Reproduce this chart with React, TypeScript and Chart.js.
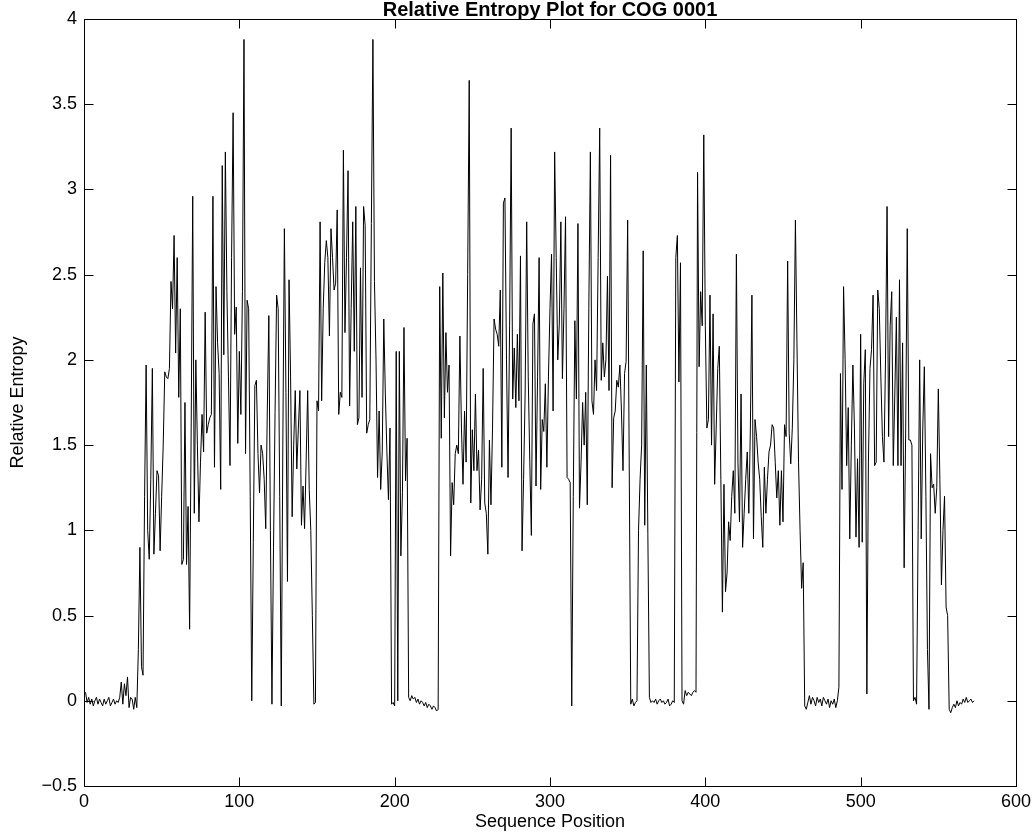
import React, { useEffect, useRef } from 'react';
import { Chart, registerables } from 'chart.js';

Chart.register(...registerables);

// Relative entropy per sequence position (positions 1..573)
const seg1 = [
  0.05, -0.01, 0.02, -0.02, 0.01, -0.03, 0.0, 0.02, -0.02, 0.01,
  -0.01, -0.03, 0.01, -0.02, 0.0, 0.02, -0.03, -0.01, 0.01, -0.02,
  0.0, -0.01, 0.02, 0.11, -0.02, 0.1, 0.03, 0.14, -0.04, 0.02,
  0.01, -0.05, 0.02, -0.04, 0.3, 0.9, 0.2, 0.15, 1.2, 1.97,
  1.0, 0.83, 1.3, 1.95, 0.86, 1.1, 1.35, 1.32, 0.88, 1.2,
  1.5, 1.93, 1.9, 1.89, 1.95, 2.46, 2.3, 2.73, 2.04, 2.6,
];
const seg2 = [
  1.78, 2.3, 0.8, 0.83, 1.75, 0.8, 1.14, 0.42, 1.6, 2.96,
  1.1, 2.0, 1.5, 1.05, 1.4, 1.68, 1.46, 2.28, 1.57, 1.62,
  1.66, 1.68, 2.96, 1.37, 2.43, 2.1, 1.92, 1.24, 3.14, 2.03,
  3.22, 2.4, 1.9, 1.38, 2.6, 3.45, 2.15, 2.31, 1.51, 2.05,
  1.68, 2.4, 3.88, 1.45, 2.35, 2.3, 1.2, 0.0, 0.93, 1.85,
  1.88, 1.45, 1.22, 1.5, 1.45, 1.3, 1.01, 1.7, 2.26, 1.0,
];
const seg3 = [
  -0.02, 0.9, 1.69, 2.38, 2.3, 1.2, -0.03, 1.5, 2.77, 1.81,
  0.7, 2.47, 1.9, 1.08, 1.5, 1.82, 1.36, 1.6, 1.82, 1.03,
  1.26, 1.01, 1.4, 1.82, 1.24, 1.0, 0.5, -0.02, -0.01, 1.76,
  1.7, 2.81, 1.76, 2.3, 2.57, 2.7, 2.6, 2.14, 2.77, 2.6,
  2.41, 2.45, 2.88, 1.68, 1.81, 1.78, 3.23, 2.16, 2.6, 3.11,
  1.73, 2.3, 2.81, 2.05, 2.9, 1.62, 1.66, 2.54, 1.78, 2.9,
];
const seg4 = [
  2.79, 1.57, 1.62, 1.65, 2.8, 3.88, 2.46, 2.0, 1.31, 1.7,
  1.24, 1.46, 2.24, 1.8, 1.46, 1.18, 1.6, -0.02, -0.01, -0.03,
  2.05, 0.0, 2.05, 0.85, 1.22, 2.19, 1.29, 1.54, 0.02, 0.0,
  0.03, 0.01, 0.02, -0.01, 0.01, -0.02, 0.0, -0.01, -0.03, -0.01,
  -0.04, -0.02, -0.03, -0.05, -0.03, -0.04, -0.06, -0.05, 2.43, 1.54,
  2.51, 1.66, 2.16, 1.81, 1.97, 0.85, 1.28, 1.15, 1.45, 1.5,
];
const seg5 = [
  1.45, 2.14, 1.6, 1.27, 1.7, 1.4, 2.5, 3.64, 1.16, 1.59,
  1.35, 1.8, 1.35, 1.47, 1.12, 1.3, 1.95, 1.16, 1.1, 0.86,
  1.53, 1.15, 1.6, 2.24, 2.18, 2.15, 2.08, 2.41, 1.37, 2.92,
  2.95, 2.0, 1.31, 2.2, 3.36, 1.77, 2.07, 1.72, 2.15, 1.76,
  2.61, 0.88, 1.3, 1.8, 2.81, 1.9, 1.4, 0.97, 2.21, 2.27,
  1.26, 1.9, 2.6, 1.24, 1.65, 1.58, 1.86, 1.37, 1.9, 2.3,
];
const seg6 = [
  2.62, 1.7, 3.22, 2.6, 2.0, 2.21, 2.81, 1.89, 2.3, 2.84,
  1.31, 1.3, 1.28, -0.03, 1.2, 2.23, 1.77, 2.8, 1.13, 1.4,
  1.75, 1.5, 1.81, 1.15, 2.3, 3.22, 1.76, 1.68, 2.0, 1.82,
  2.6, 3.36, 1.88, 2.1, 1.9, 2.0, 2.49, 1.82, 3.2, 1.25,
  1.66, 1.7, 1.88, 1.84, 1.97, 1.7, 1.35, 1.92, 1.99, 2.82,
  1.4, -0.02, 0.01, -0.03, -0.01, 0.0, 1.0, 1.3, 1.5, 2.64,
];
const seg7 = [
  1.03, 1.97, 0.98, 0.02, -0.01, 0.0, -0.01, 0.01, -0.02, 0.0,
  0.01, -0.01, 0.0, -0.02, -0.01, 0.01, -0.03, -0.02, 0.0, -0.01,
  2.6, 2.73, 1.87, 2.57, 0.0, -0.02, 0.06, 0.03, 0.05, 0.04,
  0.03, 0.05, 0.06, 0.05, 3.1, 1.96, 2.4, 2.2, 3.32, 2.2,
  1.6, 1.65, 2.38, 1.5, 2.27, 1.27, 1.6, 1.95, 2.08, 1.3,
  0.52, 1.27, 0.64, 0.75, 1.05, 0.94, 1.2, 1.35, 1.1, 2.62,
];
const seg8 = [
  1.4, 1.05, 1.8, 0.9, 1.1, 1.3, 1.46, 1.1, 1.6, 2.38,
  0.95, 1.65, 1.55, 1.4, 1.3, 1.08, 0.9, 1.37, 1.1, 1.3,
  1.46, 1.5, 1.62, 1.6, 1.4, 1.19, 1.35, 1.03, 1.35, 1.05,
  1.62, 1.55, 2.58, 1.57, 1.39, 1.6, 2.0, 2.82, 2.1, 1.4,
  1.0, 0.66, 0.81, -0.03, -0.05, -0.01, 0.03, -0.02, 0.02, 0.0,
  -0.03, 0.02, -0.01, 0.01, -0.03, 0.02, 0.0, -0.02, 0.01, -0.04,
];
const seg9 = [
  0.0, -0.02, 0.01, -0.04, 0.0, 0.08, 1.92, 1.24, 2.43, 2.0,
  1.38, 1.72, 0.95, 1.5, 1.97, 1.6, 0.96, 1.42, 0.9, 2.15,
  0.93, 1.86, 2.06, 0.04, 1.4, 1.95, 2.06, 2.38, 1.38, 1.4,
  2.41, 2.3, 1.9, 1.55, 1.4, 2.0, 2.9, 1.55, 2.2, 2.4,
  1.38, 1.8, 2.25, 1.38, 2.47, 1.38, 2.1, 0.78, 1.6, 2.77,
  1.53, 1.53, 1.5, 0.0, 0.02, -0.02, 1.0, 2.0, 0.95, 1.6,
];
const seg10 = [
  1.96, 1.2, 0.3, -0.05, 1.45, 1.25, 1.27, 1.1, 1.25, 1.83,
  1.3, 0.68, 1.0, 1.2, 0.55, 0.5, -0.05, -0.07, -0.04, -0.02,
  -0.04, 0.0, -0.03, -0.01, -0.02, 0.01, -0.01, 0.02, -0.01, 0.0,
  0.01, -0.01, 0.0,
];

const entropy = [
  ...seg1, ...seg2, ...seg3, ...seg4, ...seg5,
  ...seg6, ...seg7, ...seg8, ...seg9, ...seg10,
];

const xTicks = [0, 100, 200, 300, 400, 500, 600];
const yTicks = [-0.5, 0, 0.5, 1, 1.5, 2, 2.5, 3, 3.5, 4];

const TITLE = 'Relative Entropy Plot for COG 0001';
const X_LABEL = 'Sequence Position';
const Y_LABEL = 'Relative Entropy';

const FONT = '"Liberation Sans", Arial, Helvetica, sans-serif';
const TICK_LEN = 9;

const framePlugin = {
  id: 'matlabFrame',
  afterDraw(chart: any) {
    const { ctx, chartArea } = chart;
    const xs = chart.scales.x;
    const ys = chart.scales.y;
    const l = Math.round(chartArea.left) + 0.5;
    const r = Math.round(chartArea.right) + 0.5;
    const t = Math.round(chartArea.top) + 0.5;
    const b = Math.round(chartArea.bottom) + 0.5;
    ctx.save();
    ctx.strokeStyle = '#000';
    ctx.lineWidth = 1;
    ctx.beginPath();
    ctx.moveTo(l, t);
    ctx.lineTo(r, t);
    ctx.lineTo(r, b);
    ctx.lineTo(l, b);
    ctx.closePath();
    for (const v of xTicks) {
      const px = Math.round(xs.getPixelForValue(v)) + 0.5;
      ctx.moveTo(px, b);
      ctx.lineTo(px, b - TICK_LEN);
      ctx.moveTo(px, t);
      ctx.lineTo(px, t + TICK_LEN);
    }
    for (const v of yTicks) {
      const py = Math.round(ys.getPixelForValue(v)) + 0.5;
      ctx.moveTo(l, py);
      ctx.lineTo(l + TICK_LEN, py);
      ctx.moveTo(r, py);
      ctx.lineTo(r - TICK_LEN, py);
    }
    ctx.stroke();
    ctx.fillStyle = '#000';
    ctx.font = `bold 20px ${FONT}`;
    ctx.textAlign = 'center';
    ctx.textBaseline = 'alphabetic';
    ctx.fillText(TITLE, (chartArea.left + chartArea.right) / 2, 16);
    ctx.restore();
  },
};

export default function App() {
  const canvasRef = useRef<HTMLCanvasElement | null>(null);

  useEffect(() => {
    const canvas = canvasRef.current;
    if (!canvas) return;
    Chart.defaults.font.family = FONT;
    const chart = new Chart(canvas, {
      type: 'scatter',
      data: {
        datasets: [
          {
            data: entropy.map((v, i) => ({ x: i + 1, y: v })),
            showLine: true,
            borderColor: '#000',
            borderWidth: 1,
            pointRadius: 0,
            tension: 0,
            fill: false,
          },
        ],
      },
      options: {
        animation: false,
        responsive: false,
        devicePixelRatio: 1,
        layout: { padding: { top: 19, right: 17, left: 0, bottom: 0 } },
        plugins: {
          legend: { display: false },
          title: { display: false },
          tooltip: { enabled: false },
        },
        scales: {
          x: {
            type: 'linear',
            min: 0,
            max: 600,
            afterFit: (s: any) => { s.height = 52; },
            afterBuildTicks: (s: any) => { s.ticks = xTicks.map((v) => ({ value: v })); },
            ticks: {
              color: '#000',
              font: { size: 18, family: FONT },
              padding: 5,
              maxRotation: 0,
              autoSkip: false,
              callback: (v: any) => String(v),
            },
            grid: { display: false, drawTicks: false },
            border: { display: false },
            title: {
              display: true,
              text: X_LABEL,
              color: '#000',
              font: { size: 18, family: FONT },
              padding: { top: 0, bottom: 5 },
            },
          },
          y: {
            type: 'linear',
            min: -0.5,
            max: 4,
            afterFit: (s: any) => { s.width = 84; },
            afterBuildTicks: (s: any) => { s.ticks = yTicks.map((v) => ({ value: v })); },
            ticks: {
              color: '#000',
              font: { size: 18, family: FONT },
              padding: 7,
              autoSkip: false,
              callback: (v: any) => (v < 0 ? '\u2212' + String(Math.abs(v)) : String(v)),
            },
            grid: { display: false, drawTicks: false },
            border: { display: false },
            title: {
              display: true,
              text: Y_LABEL,
              color: '#000',
              font: { size: 18, family: FONT },
              padding: { top: 7, bottom: 0 },
            },
          },
        },
      },
      plugins: [framePlugin],
    });
    return () => chart.destroy();
  }, []);

  return (
    <div style={{ position: 'absolute', left: 0, top: 0, width: 1036, height: 838, background: '#fff' }}>
      <canvas ref={canvasRef} width={1036} height={838} style={{ display: 'block' }} />
    </div>
  );
}
